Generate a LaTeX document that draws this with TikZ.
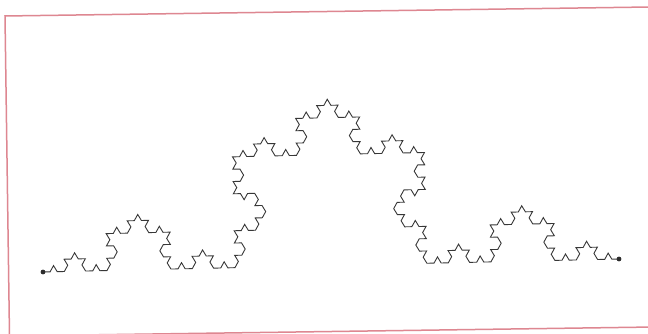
\documentclass[tikz,border=0pt]{standalone}
\usetikzlibrary{decorations.fractals}
\definecolor{framepink}{RGB}{222,135,145}
\definecolor{curvegray}{RGB}{55,55,55}
\tikzset{
  frameline/.style={draw=framepink, line width=1.5pt},
  kochline/.style={draw=curvegray, line width=0.9pt, line join=miter, decoration=Koch snowflake},
  enddot/.style={fill=curvegray!80!black}
}
\begin{document}
\begin{tikzpicture}[x=1pt,y=1pt]
  \useasboundingbox (0,0) rectangle (648,334);
  \clip (0,0) rectangle (648,334);
  \fill[white] (0,0) rectangle (648,334);
  % frame (slightly tilted, as in the scan)
  \draw[frameline] (5,318) -- (650,327) -- (654.5,7) -- (9.5,-2) -- cycle;
  % end points
  \coordinate (a) at (43,62);
  \coordinate (b) at (619,75);
  % Koch curve, level 4
  \draw[kochline] decorate{decorate{decorate{decorate{(a) -- (b)}}}};
  \fill[enddot] (a) circle (2.4);
  \fill[enddot] (b) circle (2.4);
\end{tikzpicture}
\end{document}
